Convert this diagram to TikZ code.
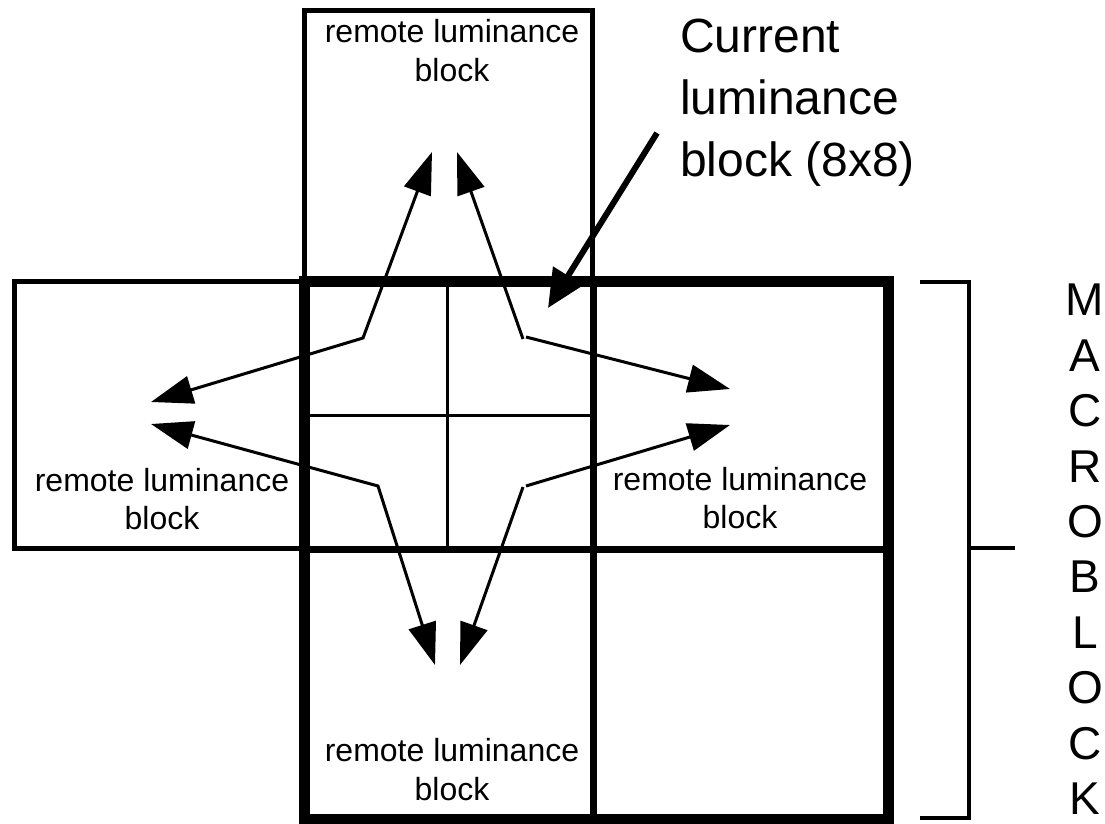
\documentclass[tikz,border=0pt]{standalone}
\usepackage{fontspec}
\setmainfont{Liberation Sans}
\usetikzlibrary{arrows.meta}
\begin{document}
\begin{tikzpicture}[x=1pt,y=-1pt,
  rembox/.style={line width=5pt},
  mbouter/.style={line width=11pt},
  mbmid/.style={line width=7pt},
  gridline/.style={line width=3pt},
  bracketline/.style={line width=4pt},
  mvarrow/.style={line width=3pt, arrows={Triangle[length=42pt,width=28pt]-Triangle[length=42pt,width=28pt]}},
  mvone/.style={line width=3pt, -{Triangle[length=42pt,width=28pt]}},
  curarrow/.style={line width=6pt, -{Triangle[length=38pt,width=34pt]}},
  smalltext/.style={font=\fontsize{32}{38.5}\selectfont, align=center, inner sep=0pt},
  bigtext/.style={font=\fontsize{48}{62}\selectfont, align=left, inner sep=0pt},
  lettertext/.style={font=\fontsize{46}{55.4}\selectfont, align=center, inner sep=0pt}
]
\useasboundingbox (0,0) rectangle (1105,824);

% corner coordinates
\coordinate (tbA) at (304,11);
\coordinate (tbB) at (592,281);
\coordinate (lbA) at (14,281);
\coordinate (lbB) at (304,548);
\coordinate (mbA) at (304,281);
\coordinate (mbB) at (888,819);
\coordinate (mvT) at (593,281);
\coordinate (mvB) at (593,819);
\coordinate (mhL) at (304,549);
\coordinate (mhR) at (888,549);
\coordinate (gvT) at (447,281);
\coordinate (gvB) at (447,549);
\coordinate (ghL) at (304,415);
\coordinate (ghR) at (593,415);

% remote boxes
\draw[rembox] (tbA) rectangle (tbB);
\draw[rembox] (lbA) rectangle (lbB);

% macroblock
\draw[mbmid] (mvT) -- (mvB);
\draw[mbmid] (mhL) -- (mhR);
\draw[gridline] (gvT) -- (gvB);
\draw[gridline] (ghL) -- (ghR);
\draw[mbouter] (mbA) rectangle (mbB);

% bracket
\coordinate (brA) at (920,282);
\coordinate (brB) at (969,282);
\coordinate (brC) at (969,818);
\coordinate (brD) at (920,818);
\coordinate (brM) at (969,548);
\coordinate (brE) at (1015,548);
\draw[bracketline] (brA) -- (brB) -- (brC) -- (brD);
\draw[bracketline] (brM) -- (brE);

% motion arrows
\coordinate (cTL) at (363,338);
\coordinate (cTRu) at (523,339);
\coordinate (cTRr) at (526,337);
\coordinate (cBL) at (378,486);
\coordinate (cBRd) at (523,487);
\coordinate (cBRr) at (526,486);
\coordinate (tU1) at (432,152);
\coordinate (tU2) at (457,152);
\coordinate (tL1) at (151,402);
\coordinate (tL2) at (151,424);
\coordinate (tR1) at (730,389);
\coordinate (tR2) at (730,425);
\coordinate (tD1) at (435,665);
\coordinate (tD2) at (460,665);

\draw[mvarrow] (tL1) -- (cTL) -- (tU1);
\draw[mvarrow] (tL2) -- (cBL) -- (tD1);
\draw[mvone] (cTRu) -- (tU2);
\draw[mvone] (cTRr) -- (tR1);
\draw[mvone] (cBRd) -- (tD2);
\draw[mvone] (cBRr) -- (tR2);

% current block pointer
\coordinate (curS) at (657,133);
\coordinate (curT) at (548,308);
\draw[curarrow] (curS) -- (curT);

% texts
\node[smalltext, anchor=north] (ttop) at (452,19.5) {remote luminance\\block};
\node[smalltext, anchor=north] (tleft) at (162,468) {remote luminance\\block};
\node[smalltext, anchor=north] (tright) at (740,467) {remote luminance\\block};
\node[smalltext, anchor=north] (tbottom) at (452,738.5) {remote luminance\\block};
\node[bigtext, anchor=north west] (tcur) at (680,19) {Current\\luminance\\block (8x8)};
\node[lettertext, anchor=north] (tmb) at (1085,284) {M\\A\\C\\R\\O\\B\\L\\O\\C\\K};
\end{tikzpicture}
\end{document}
